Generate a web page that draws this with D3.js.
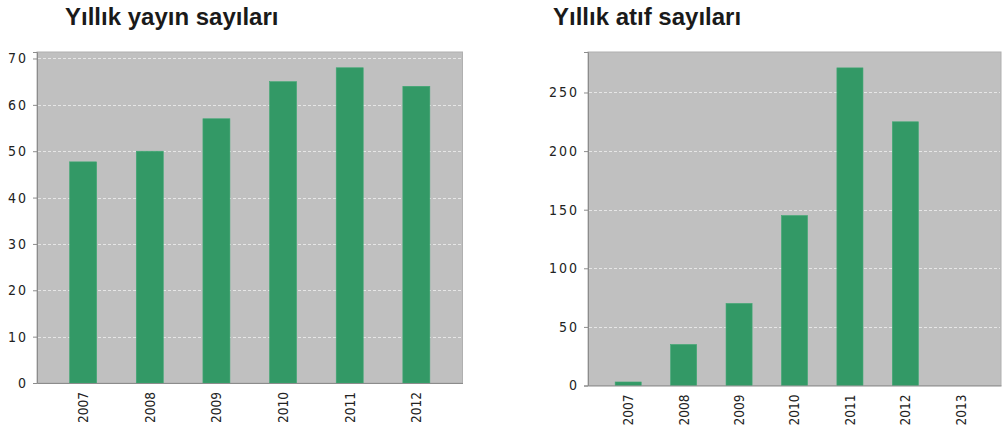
<!DOCTYPE html>
<html>
<head>
<meta charset="utf-8">
<script src="https://cdn.jsdelivr.net/npm/d3@7/dist/d3.min.js"></script>
<style>
  html, body { margin: 0; padding: 0; background: #fff; }
  svg { display: block; }
  .title { font-family: "Liberation Sans", Arial, sans-serif; font-weight: bold; font-size: 24px; fill: #1a1a1a; }
  .ylab { font-family: "DejaVu Sans Condensed", "DejaVu Sans", sans-serif; font-size: 14px; fill: #222; letter-spacing: 2px; }
  .xlab { font-family: "DejaVu Sans Condensed", "DejaVu Sans", sans-serif; font-size: 13.5px; fill: #222; }
</style>
</head>
<body>
<svg id="chart" width="1005" height="433"></svg>
<script>
// ---- data ----
const pubTitle = "Yıllık yayın sayıları";
const pubYears = ["2007", "2008", "2009", "2010", "2011", "2012"];
const pubValues = [47.7, 50, 57, 65, 68, 64];
const pubTicks = [0, 10, 20, 30, 40, 50, 60, 70];

const citTitle = "Yıllık atıf sayıları";
const citYears = ["2007", "2008", "2009", "2010", "2011", "2012", "2013"];
const citValues = [3, 35, 70, 145, 271, 225, 0];
const citTicks = [0, 50, 100, 150, 200, 250];

const svg = d3.select("#chart");

function drawPanel(cfg) {
  const { title, years, values, ticks, left, right, top, bottom, padInner, titleX } = cfg;
  const g = svg.append("g");

  const x = d3.scaleBand().domain(years).range([left, right])
    .paddingInner(padInner).paddingOuter(0.49);
  const y = d3.scaleLinear().domain([0, d3.max(values) * 1.05]).range([bottom, top]);

  // title
  g.append("text").attr("class", "title").attr("x", titleX).attr("y", 25).text(title);

  // plot background
  g.append("rect")
    .attr("x", left).attr("y", top)
    .attr("width", right - left).attr("height", bottom - top)
    .attr("fill", "#c0c0c0").attr("stroke", "#b0b0b0").attr("stroke-width", 1);

  // gridlines
  g.selectAll("line.grid").data(ticks.filter(t => t > 0)).join("line")
    .attr("class", "grid")
    .attr("x1", left + 1).attr("x2", right - 1)
    .attr("y1", d => Math.round(y(d)) + 0.5).attr("y2", d => Math.round(y(d)) + 0.5)
    .attr("stroke", "#e6e6e6").attr("stroke-width", 1)
    .attr("stroke-dasharray", "3,2");

  // bars
  g.selectAll("rect.bar").data(years.map((yr, i) => ({ yr, v: values[i] }))).join("rect")
    .attr("class", "bar")
    .attr("x", d => x(d.yr))
    .attr("width", x.bandwidth())
    .attr("y", d => y(d.v))
    .attr("height", d => y(0) - y(d.v))
    .attr("fill", "#339966")
    .attr("stroke", "#3fa873").attr("stroke-width", 0.6);

  // y axis
  const yAxis = d3.axisLeft(y).tickValues(ticks).tickSize(4).tickPadding(5).tickFormat(d3.format("d"));
  const ya = g.append("g").attr("transform", `translate(${left},0)`).call(yAxis);
  ya.select(".domain").attr("stroke", "#8c8c8c");
  ya.selectAll(".tick line").attr("stroke", "#8c8c8c");
  ya.selectAll(".tick text").attr("class", "ylab").attr("font-family", null).attr("font-size", null).attr("fill", null);

  // x axis
  const xAxis = d3.axisBottom(x).tickSize(0).tickPadding(0);
  const xa = g.append("g").attr("transform", `translate(0,${bottom})`).call(xAxis);
  xa.select(".domain").attr("stroke", "#8c8c8c");
  xa.selectAll(".tick text")
    .attr("class", "xlab").attr("font-family", null).attr("font-size", null).attr("fill", null)
    .attr("transform", "rotate(-90)")
    .attr("text-anchor", "end")
    .attr("x", -9).attr("y", 0).attr("dy", "0.36em");
}

drawPanel({ title: pubTitle, years: pubYears, values: pubValues, ticks: pubTicks,
  left: 37, right: 462.5, top: 52, bottom: 383, padInner: 0.595, titleX: 65 });
drawPanel({ title: citTitle, years: citYears, values: citValues, ticks: citTicks,
  left: 588, right: 1001, top: 52, bottom: 385.5, padInner: 0.53, titleX: 553 });
</script>
</body>
</html>
